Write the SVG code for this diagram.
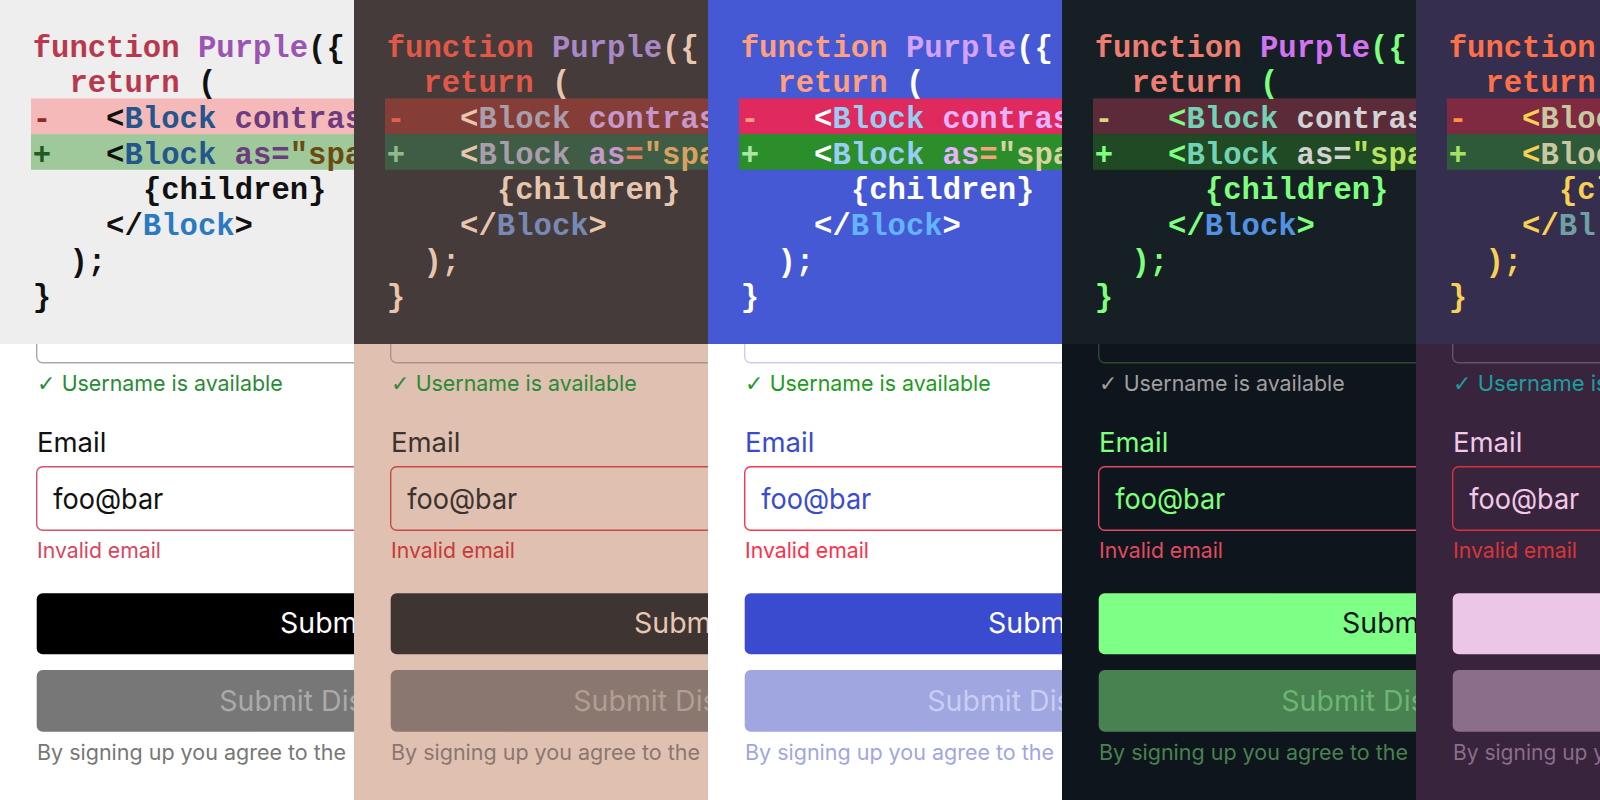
<svg xmlns="http://www.w3.org/2000/svg" width="1600" height="800" viewBox="0 0 1600 800">
<style>
.code{font-family:"Liberation Mono","DejaVu Sans Mono",monospace;font-weight:bold;font-size:30.6px}
.ui{font-family:Inter,"Liberation Sans",sans-serif}
.chk{font-family:"DejaVu Sans",sans-serif}
.s22{font-size:22px}
.s21{font-size:21px}
.s27{font-size:27.5px}
.s28{font-size:28.5px}
.box{stroke-width:1.4}
</style>
<defs>
<clipPath id="pc" clipPathUnits="userSpaceOnUse"><rect x="0" y="0" width="354" height="800"/></clipPath>
</defs>

<!-- Panel 1 -->
<g id="panel1" clip-path="url(#pc)">
<rect x="0" y="344" width="354" height="456" fill="#ffffff"/>
<rect class="box" x="36.7" y="290" width="600" height="72.7" rx="6" fill="#ffffff" stroke="#a8a8a8"/>
<text class="ui s22" y="391" fill="#2a8a36"><tspan class="chk" x="37">✓</tspan><tspan x="61.7" textLength="221" lengthAdjust="spacingAndGlyphs">Username is available</tspan></text>
<text class="ui s27" x="37" y="452" fill="#111111">Email</text>
<rect class="box" x="36.7" y="466.7" width="600" height="63.6" rx="6" fill="#ffffff" stroke="#d6506a"/>
<text class="ui s28" x="53.3" y="509" fill="#111111" textLength="110" lengthAdjust="spacingAndGlyphs">foo@bar</text>
<text class="ui s22" x="37" y="558" fill="#d6475e" textLength="124" lengthAdjust="spacingAndGlyphs">Invalid email</text>
<rect x="36.7" y="593.3" width="600" height="61" rx="6" fill="#000000"/>
<text class="ui s28" x="280" y="633" fill="#ffffff">Subm</text>
<rect x="36.7" y="670" width="600" height="61.7" rx="6" fill="#777777"/>
<text class="ui s28" x="219.3" y="710.7" fill="#aaaaaa">Submit Dis</text>
<text class="ui s21" x="37" y="759.5" fill="#777777" textLength="309" lengthAdjust="spacingAndGlyphs">By signing up you agree to the</text>
<rect x="0" y="0" width="354" height="344" fill="#eeeeee"/>
<rect x="31" y="98.4" width="330" height="35.7" fill="#f5b9b9"/>
<rect x="31" y="134.1" width="330" height="35.7" fill="#9fc99b"/>
<g class="code">
<text x="32.7" y="56.5"><tspan fill="#b8394d">function</tspan><tspan fill="#9b54b2"> Purple</tspan><tspan fill="#111111">({</tspan></text>
<text x="69.4" y="92.2"><tspan fill="#b8394d">return</tspan><tspan fill="#111111"> (</tspan></text>
<text x="32.7" y="127.9" fill="#8c2b2b">-</text>
<text x="106.1" y="127.9"><tspan fill="#111111">&lt;</tspan><tspan fill="#23568c">Block</tspan><tspan fill="#6d3b80"> contras</tspan></text>
<text x="32.7" y="163.6" fill="#1f5a1f">+</text>
<text x="106.1" y="163.6"><tspan fill="#111111">&lt;</tspan><tspan fill="#23568c">Block</tspan><tspan fill="#6d3b80"> as=</tspan><tspan fill="#6b4a12">"spa</tspan></text>
<text x="142.9" y="199.3" fill="#111111">{children}</text>
<text x="106.1" y="235" ><tspan fill="#111111">&lt;/</tspan><tspan fill="#2a79c1">Block</tspan><tspan fill="#111111">&gt;</tspan></text>
<text x="69.4" y="270.7" fill="#111111">);</text>
<text x="32.7" y="306.4" fill="#111111">}</text>
</g>
</g>

<!-- Panel 2 -->
<g id="panel2" transform="translate(354,0)" clip-path="url(#pc)">
<rect x="0" y="344" width="354" height="456" fill="#e0c0b0"/>
<rect class="box" x="36.7" y="290" width="600" height="72.7" rx="6" fill="#e0c0b0" stroke="#a8928a"/>
<text class="ui s22" y="391" fill="#2a8a36"><tspan class="chk" x="37">✓</tspan><tspan x="61.7" textLength="221" lengthAdjust="spacingAndGlyphs">Username is available</tspan></text>
<text class="ui s27" x="37" y="452" fill="#3c3331">Email</text>
<rect class="box" x="36.7" y="466.7" width="600" height="63.6" rx="6" fill="#e0c0b0" stroke="#c94a44"/>
<text class="ui s28" x="53.3" y="509" fill="#3c3331" textLength="110" lengthAdjust="spacingAndGlyphs">foo@bar</text>
<text class="ui s22" x="37" y="558" fill="#c63a3a" textLength="124" lengthAdjust="spacingAndGlyphs">Invalid email</text>
<rect x="36.7" y="593.3" width="600" height="61" rx="6" fill="#3e3432"/>
<text class="ui s28" x="280" y="633" fill="#e8c6b4">Subm</text>
<rect x="36.7" y="670" width="600" height="61.7" rx="6" fill="#8a776f"/>
<text class="ui s28" x="219.3" y="710.7" fill="#b39d93">Submit Dis</text>
<text class="ui s21" x="37" y="759.5" fill="#8a776f" textLength="309" lengthAdjust="spacingAndGlyphs">By signing up you agree to the</text>
<rect x="0" y="0" width="354" height="344" fill="#453b3a"/>
<rect x="31" y="98.4" width="330" height="35.7" fill="#843e37"/>
<rect x="31" y="134.1" width="330" height="35.7" fill="#3f5d45"/>
<g class="code">
<text x="32.7" y="56.5"><tspan fill="#e25848">function</tspan><tspan fill="#a888c6"> Purple</tspan><tspan fill="#e8c6ae">({</tspan></text>
<text x="69.4" y="92.2"><tspan fill="#e25848">return</tspan><tspan fill="#e8c6ae"> (</tspan></text>
<text x="32.7" y="127.9" fill="#e2604e">-</text>
<text x="106.1" y="127.9"><tspan fill="#e8c6ae">&lt;</tspan><tspan fill="#a99cab">Block</tspan><tspan fill="#c697c9"> contras</tspan></text>
<text x="32.7" y="163.6" fill="#8cbc8c">+</text>
<text x="106.1" y="163.6"><tspan fill="#e8c6ae">&lt;</tspan><tspan fill="#a99cab">Block</tspan><tspan fill="#c697c9"> as</tspan><tspan fill="#e37b58">=</tspan><tspan fill="#d9a160">"spa</tspan></text>
<text x="142.9" y="199.3" fill="#e8c6ae">{children}</text>
<text x="106.1" y="235"><tspan fill="#e8c6ae">&lt;/</tspan><tspan fill="#7889b5">Block</tspan><tspan fill="#e8c6ae">&gt;</tspan></text>
<text x="69.4" y="270.7" fill="#e8c6ae">);</text>
<text x="32.7" y="306.4" fill="#e8c6ae">}</text>
</g>
</g>

<!-- Panel 3 -->
<g id="panel3" transform="translate(708,0)" clip-path="url(#pc)">
<rect x="0" y="344" width="354" height="456" fill="#ffffff"/>
<rect class="box" x="36.7" y="290" width="600" height="72.7" rx="6" fill="#ffffff" stroke="#c9cdf0"/>
<text class="ui s22" y="391" fill="#1e9a1e"><tspan class="chk" x="37">✓</tspan><tspan x="61.7" textLength="221" lengthAdjust="spacingAndGlyphs">Username is available</tspan></text>
<text class="ui s27" x="37" y="452" fill="#3a4bd0">Email</text>
<rect class="box" x="36.7" y="466.7" width="600" height="63.6" rx="6" fill="#ffffff" stroke="#ff3450"/>
<text class="ui s28" x="53.3" y="509" fill="#3a4bd0" textLength="110" lengthAdjust="spacingAndGlyphs">foo@bar</text>
<text class="ui s22" x="37" y="558" fill="#ff3048" textLength="124" lengthAdjust="spacingAndGlyphs">Invalid email</text>
<rect x="36.7" y="593.3" width="600" height="61" rx="6" fill="#3a4bd0"/>
<text class="ui s28" x="280" y="633" fill="#ffffff">Subm</text>
<rect x="36.7" y="670" width="600" height="61.7" rx="6" fill="#a0a6e0"/>
<text class="ui s28" x="219.3" y="710.7" fill="#c9cdf2">Submit Dis</text>
<text class="ui s21" x="37" y="759.5" fill="#a0a6e0" textLength="309" lengthAdjust="spacingAndGlyphs">By signing up you agree to the</text>
<rect x="0" y="0" width="354" height="344" fill="#4659d4"/>
<rect x="31" y="98.4" width="330" height="35.7" fill="#e0295c"/>
<rect x="31" y="134.1" width="330" height="35.7" fill="#2b8e2b"/>
<g class="code">
<text x="32.7" y="56.5"><tspan fill="#ff9f80">function</tspan><tspan fill="#d6a2ff"> Purple</tspan><tspan fill="#ffffff">({</tspan></text>
<text x="69.4" y="92.2"><tspan fill="#ff9f80">return</tspan><tspan fill="#ffffff"> (</tspan></text>
<text x="32.7" y="127.9" fill="#ff9f80">-</text>
<text x="106.1" y="127.9"><tspan fill="#ffffff">&lt;</tspan><tspan fill="#98cdf5">Block</tspan><tspan fill="#e6b4ff"> contras</tspan></text>
<text x="32.7" y="163.6" fill="#a9e8a9">+</text>
<text x="106.1" y="163.6"><tspan fill="#ffffff">&lt;</tspan><tspan fill="#98cdf5">Block</tspan><tspan fill="#e6b4ff"> as</tspan><tspan fill="#ff9f80">=</tspan><tspan fill="#d9d2a2">"spa</tspan></text>
<text x="142.9" y="199.3" fill="#ffffff">{children}</text>
<text x="106.1" y="235"><tspan fill="#ffffff">&lt;/</tspan><tspan fill="#62b4ff">Block</tspan><tspan fill="#ffffff">&gt;</tspan></text>
<text x="69.4" y="270.7" fill="#ffffff">);</text>
<text x="32.7" y="306.4" fill="#ffffff">}</text>
</g>
</g>

<!-- Panel 4 -->
<g id="panel4" transform="translate(1062,0)" clip-path="url(#pc)">
<rect x="0" y="344" width="354" height="456" fill="#0f151c"/>
<rect class="box" x="36.7" y="290" width="600" height="72.7" rx="6" fill="#0f151c" stroke="#2a4a32"/>
<text class="ui s22" y="391" fill="#a0a0a0"><tspan class="chk" x="37">✓</tspan><tspan x="61.7" textLength="221" lengthAdjust="spacingAndGlyphs">Username is available</tspan></text>
<text class="ui s27" x="37" y="452" fill="#7eff7e">Email</text>
<rect class="box" x="36.7" y="466.7" width="600" height="63.6" rx="6" fill="#0f151c" stroke="#e04a62"/>
<text class="ui s28" x="53.3" y="509" fill="#7eff7e" textLength="110" lengthAdjust="spacingAndGlyphs">foo@bar</text>
<text class="ui s22" x="37" y="558" fill="#e24a62" textLength="124" lengthAdjust="spacingAndGlyphs">Invalid email</text>
<rect x="36.7" y="593.3" width="600" height="61" rx="6" fill="#7eff86"/>
<text class="ui s28" x="280" y="633" fill="#0f151c">Subm</text>
<rect x="36.7" y="670" width="600" height="61.7" rx="6" fill="#478250"/>
<text class="ui s28" x="219.3" y="710.7" fill="#6cb673">Submit Dis</text>
<text class="ui s21" x="37" y="759.5" fill="#478250" textLength="309" lengthAdjust="spacingAndGlyphs">By signing up you agree to the</text>
<rect x="0" y="0" width="354" height="344" fill="#162024"/>
<rect x="31" y="98.4" width="330" height="35.7" fill="#5b2b39"/>
<rect x="31" y="134.1" width="330" height="35.7" fill="#1f4a23"/>
<g class="code">
<text x="32.7" y="56.5"><tspan fill="#f07d72">function</tspan><tspan fill="#d273f2"> Purple</tspan><tspan fill="#7eff7e">({</tspan></text>
<text x="69.4" y="92.2"><tspan fill="#f07d72">return</tspan><tspan fill="#7eff7e"> (</tspan></text>
<text x="32.7" y="127.9" fill="#d6d27e">-</text>
<text x="106.1" y="127.9"><tspan fill="#7eff7e">&lt;</tspan><tspan fill="#72d3b3">Block</tspan><tspan fill="#d2d2d2"> contras</tspan></text>
<text x="32.7" y="163.6" fill="#7eff7e">+</text>
<text x="106.1" y="163.6"><tspan fill="#7eff7e">&lt;</tspan><tspan fill="#72d3b3">Block</tspan><tspan fill="#d2d2d2"> as=</tspan><tspan fill="#b9e35e">"spa</tspan></text>
<text x="142.9" y="199.3" fill="#7eff7e">{children}</text>
<text x="106.1" y="235"><tspan fill="#7eff7e">&lt;/</tspan><tspan fill="#5291e3">Block</tspan><tspan fill="#7eff7e">&gt;</tspan></text>
<text x="69.4" y="270.7" fill="#7eff7e">);</text>
<text x="32.7" y="306.4" fill="#7eff7e">}</text>
</g>
</g>

<!-- Panel 5 -->
<g id="panel5" transform="translate(1416,0)" clip-path="url(#pc)">
<rect x="0" y="344" width="354" height="456" fill="#38243d"/>
<rect class="box" x="36.7" y="290" width="600" height="72.7" rx="6" fill="#38243d" stroke="#6a5070"/>
<text class="ui s22" y="391" fill="#1e9e9e"><tspan class="chk" x="37">✓</tspan><tspan x="61.7">Username is</tspan></text>
<text class="ui s27" x="37" y="452" fill="#f0c8e8">Email</text>
<rect class="box" x="36.7" y="466.7" width="600" height="63.6" rx="6" fill="#38243d" stroke="#d8323e"/>
<text class="ui s28" x="53.3" y="509" fill="#f0c8e8" textLength="110" lengthAdjust="spacingAndGlyphs">foo@bar</text>
<text class="ui s22" x="37" y="558" fill="#d8363a" textLength="124" lengthAdjust="spacingAndGlyphs">Invalid email</text>
<rect x="36.7" y="593.3" width="600" height="61" rx="6" fill="#ecc6e6"/>
<rect x="36.7" y="670" width="600" height="61.7" rx="6" fill="#8a6e8a"/>
<text class="ui s21" x="37" y="759.5" fill="#8a6e8a">By signing up y</text>
<rect x="0" y="0" width="354" height="344" fill="#352e4f"/>
<rect x="31" y="98.4" width="330" height="35.7" fill="#802a41"/>
<rect x="31" y="134.1" width="330" height="35.7" fill="#2e5a39"/>
<g class="code">
<text x="32.7" y="56.5" fill="#ff7048">function</text>
<text x="69.4" y="92.2" fill="#ff7048">return</text>
<text x="32.7" y="127.9" fill="#ff9040">-</text>
<text x="106.1" y="127.9"><tspan fill="#f8d154">&lt;</tspan><tspan fill="#c8c8a0">Bloc</tspan></text>
<text x="32.7" y="163.6" fill="#a3e35f">+</text>
<text x="106.1" y="163.6"><tspan fill="#f8d154">&lt;</tspan><tspan fill="#c8c8a0">Bloc</tspan></text>
<text x="142.9" y="199.3" fill="#f8d154">{cl</text>
<text x="106.1" y="235"><tspan fill="#f8d154">&lt;/</tspan><tspan fill="#70a0a2">Bl</tspan></text>
<text x="69.4" y="270.7" fill="#f8d154">);</text>
<text x="32.7" y="306.4" fill="#f8d154">}</text>
</g>
</g>
</svg>
